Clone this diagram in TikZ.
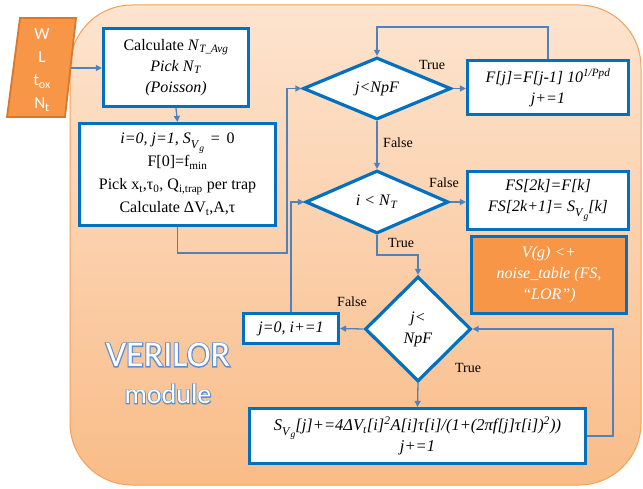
\documentclass[tikz,border=0pt]{standalone}
\usepackage{fontspec}
\setmainfont{Liberation Serif}
\newfontfamily\calib{Carlito}
\newfontfamily\calibfat[FakeBold=6]{Carlito}
\usetikzlibrary{shapes.geometric,arrows.meta}
\definecolor{boxblue}{HTML}{0070C0}
\definecolor{linkblue}{HTML}{4F81BD}
\definecolor{bgtop}{HTML}{FDE4CF}
\definecolor{bgbot}{HTML}{F9BC88}
\definecolor{bgedge}{HTML}{F5A05A}
\definecolor{orfill}{HTML}{F79646}
\definecolor{oredge}{HTML}{D9772C}
\definecolor{verblue}{HTML}{5B8FD0}
\newcommand\Svg{\textit{S}\raisebox{-0.28em}{\fontsize{12}{12}\selectfont\textit{V}\raisebox{-0.22em}{\fontsize{9.5}{9.5}\selectfont\textit{g}}}}
\begin{document}
\begin{tikzpicture}[x=1pt,y=-1pt,
  box/.style={draw=boxblue, line width=3.2pt, fill=white, inner sep=2pt, align=center, font=\fontsize{16}{21}\selectfont},
  dia/.style={diamond, draw=boxblue, line width=3.2pt, fill=white, inner sep=0pt, align=center, font=\fontsize{16}{21}\selectfont},
  arr/.style={draw=linkblue, line width=1.3pt, -{Triangle[length=6pt,width=6pt]}},
  lbl/.style={font=\fontsize{14}{16}\selectfont},
  ver/.style={font=\fontsize{36}{38}\selectfont},
  mod/.style={font=\fontsize{28}{30}\selectfont}]
\useasboundingbox (0,0) rectangle (643,489);
% background
\shade[top color=bgtop, bottom color=bgbot, rounded corners=62pt] (70,5) rectangle (641,485);
\draw[bgedge, line width=1pt, rounded corners=62pt] (70,5) rectangle (641,485);
% input
\filldraw[fill=orfill, draw=oredge, line width=1.8pt] (20,18) -- (76,18) -- (65,117) -- (7,117) -- cycle;
\node[text=white, align=center, font=\calib\fontsize{17}{23}\selectfont] (inp) at (42,70) {W\\L\\t\textsubscript{ox}\\N\textsubscript{t}};
\coordinate (inR) at (70.5,68);
% boxes
\node[box, minimum width=145pt, minimum height=78pt] (b1) at (176,67.5)
  {Calculate \textit{N}\textsubscript{\textit{T\_Avg}}\\ \textit{Pick N}\textsubscript{\textit{T}}\\ \textit{(Poisson)}};
\node[box, minimum width=196pt, minimum height=102pt, font=\fontsize{16}{23}\selectfont] (b2) at (177.5,174.5)
  {\textit{i=0, j=1, }\Svg\ \,=\, 0\\ F[0]=f\textsubscript{min}\\ Pick x\textsubscript{t},τ\textsubscript{0}, Q\textsubscript{i,trap} per trap\\ Calculate ΔV\textsubscript{t},A,τ};
\node[box, minimum width=161pt, minimum height=54pt] (fb) at (548,87.5)
  {\textit{F[j]=F[j-1] 10\textsuperscript{1/Ppd}}\\ \textit{j+=1}};
\node[box, minimum width=161pt, minimum height=58pt] (fs) at (548,200.5)
  {\textit{FS[2k]=F[k]}\\ \textit{FS[2k+1]= }\Svg\textit{[k]}};
\node[box, fill=orfill, text=white, minimum width=155pt, minimum height=77pt] (vg) at (549,275)
  {\textit{V(g) <+}\\ \textit{noise\_table (FS,}\\ \textit{“LOR”)}};
\node[box, minimum width=95pt, minimum height=30pt] (j0) at (291,328.5) {\textit{j=0, i+=1}};
\node[box, minimum width=336pt, minimum height=55pt, font=\fontsize{16.5}{21}\selectfont] (bot) at (417.5,436)
  {\Svg\textit{[j]+=4ΔV\textsubscript{t}[i]\textsuperscript{2}A[i]τ[i]/(1+(2πf[j]τ[i])\textsuperscript{2}))}\\ \textit{j+=1}};
% diamonds
\node[dia, minimum width=148pt, minimum height=62pt] (d1) at (377,88.5) {\textit{j<NpF}};
\node[dia, minimum width=143pt, minimum height=63pt] (d2) at (377,202) {\textit{i < N}\textsubscript{\textit{T}}};
\node[dia, minimum width=106pt, minimum height=105pt] (d3) at (418,329) {\textit{j<}\\ \textit{NpF}};
% helper coordinates
\coordinate (c1) at (287,253);
\coordinate (c2) at (377,27);
\coordinate (c3) at (418,255);
\coordinate (c4) at (613,329);
% connectors
\draw[arr] (inR) -- (b1.west |- inR);
\draw[arr] (b1.south) -- (b2.north);
\draw[arr] (b2.south) |- (c1) |- (d1.west);
\draw[arr] (d1.east) -- (d1.east -| fb.west);
\draw[arr] (fb.north) |- (c2) -- (d1.north);
\draw[arr] (d1.south) -- (d2.north);
\draw[arr] (d2.east) -- (d2.east -| fs.west);
\draw[arr] (d2.south) |- (c3) -- (d3.north);
\draw[arr] (d3.west) -- (j0.east);
\draw[arr] (j0.north) |- (d2.west);
\draw[arr] (d3.south) -- (bot.north);
\draw[arr] (bot.east) -| (c4) -- (d3.east);
% labels
\node[lbl] (t1) at (432,65) {True};
\node[lbl] (f1) at (398,143) {False};
\node[lbl] (f2) at (444,183) {False};
\node[lbl] (t2) at (401,243) {True};
\node[lbl] (f3) at (352,302) {False};
\node[lbl] (t3) at (468,368) {True};
% VERILOR module: blue emboldened copy under white text
\node[ver, text=verblue] (vout) at (168,355) {\calibfat VERILOR};
\node[ver, text=white] (vtxt) at (168,355) {\calib VERILOR};
\node[mod, text=verblue] (mout) at (168,394) {\calibfat module};
\node[mod, text=white] (mtxt) at (168,394) {\calib module};
\end{tikzpicture}
\end{document}
